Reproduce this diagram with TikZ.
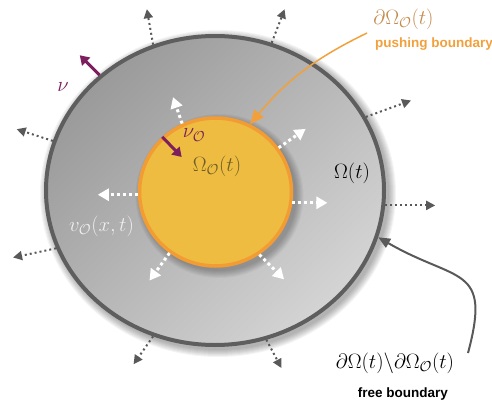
\documentclass[tikz,border=0pt]{standalone}
\usepackage{amsmath,amssymb}
\usepackage{fontspec}
\newfontfamily\tagfont{Liberation Sans}
\usepackage{xcolor}
\usepackage{tikz}
\usetikzlibrary{shapes.geometric,arrows.meta,calc}

\definecolor{rimgray}{HTML}{5E5E5E}
\definecolor{shadetop}{HTML}{9A9A9A}
\definecolor{shadebot}{HTML}{D4D4D4}
\definecolor{coreyellow}{HTML}{EDBC40}
\definecolor{rimorange}{HTML}{F29C33}
\definecolor{arrowgray}{HTML}{595959}
\definecolor{normalpurple}{HTML}{7D1F5E}
\definecolor{pushorange}{HTML}{F2A03C}
\definecolor{pushtan}{HTML}{C48A4C}
\definecolor{omegaolive}{HTML}{6E5F2A}
\definecolor{velwhite}{HTML}{EEEEEE}

\begin{document}
\begin{tikzpicture}[
    x=1pt, y=1pt,
    bulk/.style={ellipse, draw=rimgray, line width=4pt, minimum width=338pt, minimum height=309pt,
                 top color=shadetop, bottom color=shadebot, shading angle=45},
    obstacle/.style={ellipse, draw=rimorange, line width=3.5pt, fill=coreyellow,
                     minimum width=152pt, minimum height=148pt},
    outflow/.style={draw=arrowgray, line width=2pt, dash pattern=on 2pt off 3pt,
                    -{Triangle[length=9pt,width=9pt]}},
    inflow/.style={draw=white, line width=3pt, dash pattern=on 3pt off 3pt,
                   -{Triangle[length=11pt,width=12pt]}},
    normalvec/.style={draw=normalpurple, line width=3pt, -{Triangle[length=9pt,width=11pt]}},
    pusharrow/.style={draw=pushorange, line width=1.5pt, -{Triangle[length=14pt,width=12pt]}},
    freearrow/.style={draw=arrowgray, line width=2pt, -{Triangle[length=12pt,width=10pt]}},
    mathlbl/.style={font=\fontsize{20}{24}\selectfont, inner sep=0pt},
    taglbl/.style={font=\fontsize{13.5}{16}\selectfont\tagfont\bfseries, inner sep=0pt}
]
    \useasboundingbox (0,0) rectangle (492,405);

    % Soft shadow of the domain
    \foreach \r in {0,...,7}
        \fill[black, opacity=0.045] (218,211.5) ellipse ({171+\r} and {156.5+\r});

    % Domain and obstacle
    \node[bulk] (dom) at (215,214.5) {};
    \foreach \r in {0,...,7}
        \fill[black, opacity=0.035] (219.5,209) ellipse ({77+\r} and {75+\r});
    \node[obstacle] (obs) at (215.5,213) {};

    % Outward velocity on the free boundary
    \draw[outflow] (dom.113) -- ++(100:36);
    \draw[outflow] (dom.69)  -- ++(69:36);
    \draw[outflow] (dom.26)  -- ++(20:48);
    \draw[outflow] (dom.163) -- ++(162:38);
    \draw[outflow] (dom.200) -- ++(192:44);
    \draw[outflow] (dom.247) -- ++(235:34);
    \draw[outflow] (dom.289) -- ++(298:32);
    \draw[outflow] (dom.355) -- ++(0:50);

    % Pushing velocity on the obstacle
    \draw[inflow] (obs.116)  -- ++(109:28);
    \draw[inflow] (obs.182)  -- ++(180:40);
    \draw[inflow] (obs.35)   -- ++(35:33);
    \draw[inflow] (obs.-8)   -- ++(0:35);
    \draw[inflow] (obs.-55)  -- ++(-45:35);
    \draw[inflow] (obs.-127) -- ++(-126:34);

    % Normals
    \draw[normalvec] (dom.135) -- ++(135:28);
    \draw[normalvec] (obs.134) -- ++(-46:28);

    % Labels
    \node[mathlbl, text=normalpurple] (nu)    at (63,318)    {$\nu$};
    \node[mathlbl, text=normalpurple] (nuobs) at (194,270)   {$\nu_{\mathcal{O}}$};
    \node[mathlbl, text=omegaolive]   (omobs) at (217,239)   {$\Omega_{\mathcal{O}}(t)$};
    \node[mathlbl]                    (om)    at (352,232)   {$\Omega(t)$};
    \node[mathlbl, text=velwhite]     (vel)   at (101.5,179) {$v_{\mathcal{O}}(x,t)$};
    \node[mathlbl, text=pushtan]      (dobs)  at (403.5,386) {$\partial\Omega_{\mathcal{O}}(t)$};
    \node[taglbl, text=pushorange, anchor=base west] (push) at (375,357) {pushing boundary};
    \node[mathlbl]                    (dfree) at (395,42)    {$\partial\Omega(t)\backslash\partial\Omega_{\mathcal{O}}(t)$};
    \node[taglbl, anchor=base]        (free)  at (403,8)     {free boundary};

    % Callout arrows
    \coordinate (pushtail) at (367,372);
    \coordinate (freetail) at (468,52);
    \draw[pusharrow] (pushtail) to[bend right=12] (obs.63);
    \draw[freearrow] (freetail) to[out=75, in=-30, looseness=1.6] (dom.-16);

\end{tikzpicture}
\end{document}
